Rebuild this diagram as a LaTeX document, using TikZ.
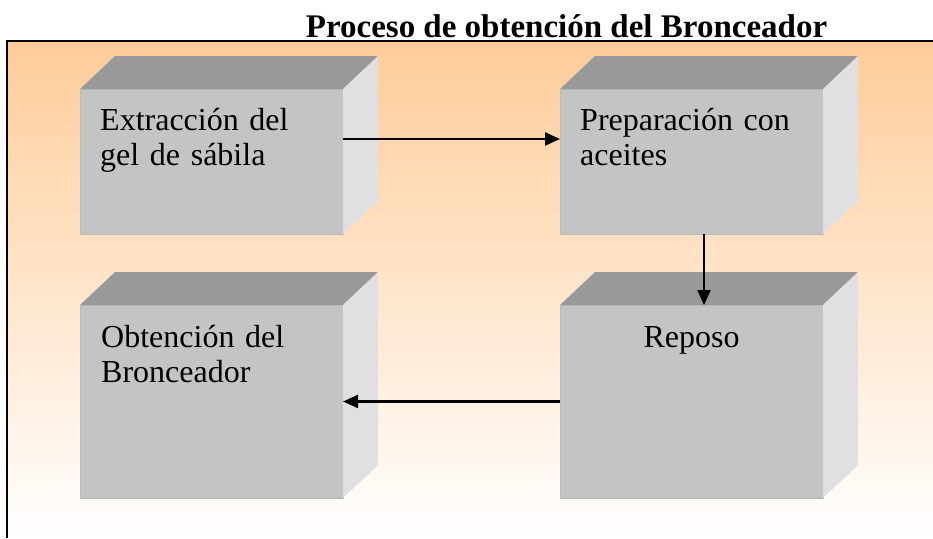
\documentclass[tikz,border=0pt]{standalone}
\usepackage{fontspec}
\setmainfont{Liberation Serif}
\usetikzlibrary{arrows.meta, positioning}
\definecolor{fondo}{HTML}{FFCC99}

\begin{document}
\begin{tikzpicture}[
	x = 1pt, y = -1pt,
	on grid,
	> = {Triangle[length=15pt,width=13pt]},
	caja/.style = {rectangle, draw=black!27, line width=0.8pt, fill=black!23, minimum width=263pt, outer sep=0pt, inner sep=0pt},
	tapa/.style = {fill=black!40},
	lado/.style = {fill=black!12},
	rotulo/.style = {font=\fontsize{32}{35.5}\selectfont, inner sep=0pt, text width=240pt, align=left, anchor=base west},
	flecha/.style = {->, line width=2.2pt}
	]
	\useasboundingbox (0,0) rectangle (933,538);
	% fondo y marco
	\shade[top color=fondo, bottom color=white] (7,41) rectangle (933,538);
	\draw[line width=2.4pt] (7,538) -- (7,41) -- (933,41);
	\node[font=\bfseries\fontsize{33}{40}\selectfont, anchor=base] (titulo) at (566.5,37.5) {Proceso de obtención del Bronceador};
	% cajas
	\node[caja, minimum height=145pt] (extr) at (211.5,161.5) {};
	\node[caja, minimum height=145pt, right=480pt of extr] (prep) {};
	\node[caja, minimum height=193pt, below=240pt of prep] (repo) {};
	\node[caja, minimum height=193pt, left=480pt of repo] (obt) {};
	\foreach \n in {extr,prep,obt,repo}{
		\fill[tapa] (\n.north west) -- ++(35,-33) -- ([shift={(35,-33)}]\n.north east) -- (\n.north east) -- cycle;
		\fill[lado] (\n.north east) -- ++(35,-33) -- ([shift={(35,-33)}]\n.south east) -- (\n.south east) -- cycle;
	}
	% textos
	\node[rotulo] (t-extr) at ([shift={(20,41)}]extr.north west) {Extracción del\\gel de sábila};
	\node[rotulo] (t-prep) at ([shift={(20,41)}]prep.north west) {Preparación con\\aceites};
	\node[rotulo] (t-obt) at ([shift={(21,42)}]obt.north west) {Obtención del\\Bronceador};
	\node[rotulo, text width=263pt, align=center, anchor=base] (t-repo) at ([shift={(0,42)}]repo.north) {Reposo};
	% flechas
	\draw[flecha] ([yshift=22.5pt]extr.east) -- ([yshift=22.5pt]prep.west);
	\draw[flecha] ([xshift=12.5pt]prep.south) -- ([xshift=12.5pt]repo.north);
	\draw[flecha] (repo.west) -- (obt.east);
\end{tikzpicture}
\end{document}
